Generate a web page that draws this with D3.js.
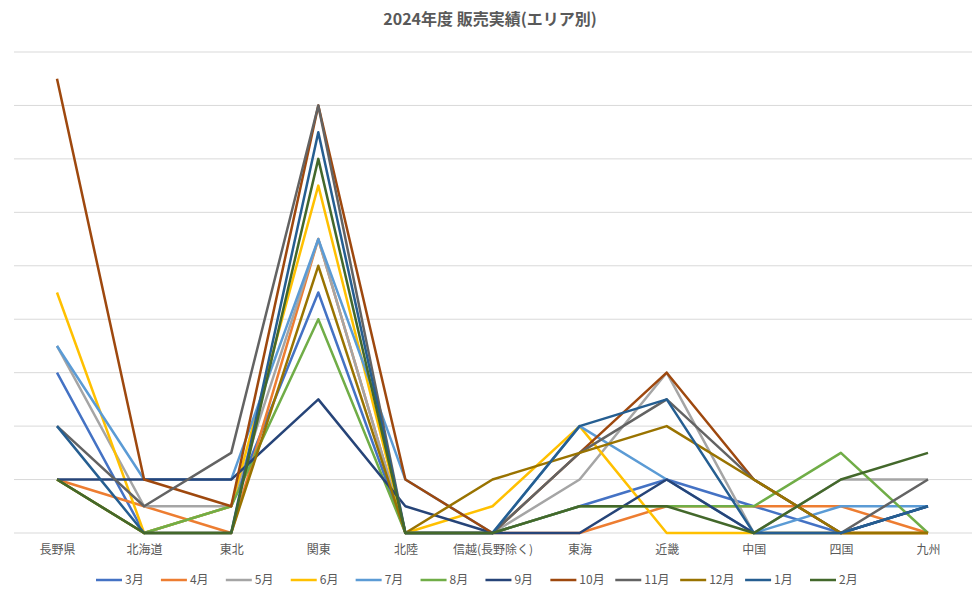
<!DOCTYPE html><html><head><meta charset="utf-8"><script src="https://cdn.jsdelivr.net/npm/d3@7"></script>
<style>body{margin:0;background:#fff;font-family:"Noto Sans CJK JP",sans-serif}</style></head><body><svg id="c" width="980" height="610"></svg><script>
const categories=["長野県","北海道","東北","関東","北陸","信越(長野除く)","東海","近畿","中国","四国","九州"];
const seriesNames=["3月","4月","5月","6月","7月","8月","9月","10月","11月","12月","1月","2月"];
const colors=["#4472C4","#ED7D31","#A5A5A5","#FFC000","#5B9BD5","#70AD47","#264478","#9E480E","#636363","#997300","#255E91","#43682B"];
const s3=[6,0,1,9,0,0,1,2,1,0,1];
const s4=[2,1,0,11,0,0,0,1,1,1,0];
const s5=[7,1,1,11,0,0,2,6,0,2,2];
const s6=[9,0,1,13,0,1,4,0,0,0,0];
const s7=[7,2,2,11,2,0,4,2,0,1,1];
const s8=[2,0,1,8,0,0,1,1,1,3,0];
const s9=[2,2,2,5,1,0,0,2,0,0,1];
const s10=[17,2,1,16,2,0,3,6,2,0,0];
const s11=[4,1,3,16,0,0,3,5,2,0,2];
const s12=[2,0,0,10,0,2,3,4,2,0,0];
const s1=[4,0,0,15,0,0,4,5,0,0,1];
const s2=[2,0,0,14,0,0,1,1,0,2,3];
const yTicks=[0,2,4,6,8,10,12,14,16,18];
const data=[s3,s4,s5,s6,s7,s8,s9,s10,s11,s12,s1,s2];
const svg=d3.select("#c");
const x=d3.scalePoint().domain(categories).range([57,928]);
const y=d3.scaleLinear().domain([0,18]).range([533,52]);
svg.append("text").attr("x",490).attr("y",25).attr("text-anchor","middle").attr("font-size",16).attr("font-weight","bold").attr("fill","#595959").text("2024年度 販売実績(エリア別)");
svg.append("g").selectAll("line").data(yTicks).join("line").attr("x1",14).attr("x2",972).attr("y1",d=>y(d)).attr("y2",d=>y(d)).attr("stroke","#d9d9d9");
svg.append("g").attr("transform","translate(0,533)").call(d3.axisBottom(x).tickSize(0).tickPadding(12)).call(g=>g.select(".domain").remove()).selectAll("text").attr("font-size",12).attr("fill","#595959").attr("font-family","Noto Sans CJK JP");
const line=d3.line().x((d,i)=>x(categories[i])).y(d=>y(d));
svg.append("g").selectAll("path").data(data).join("path").attr("d",line).attr("fill","none").attr("stroke",(d,i)=>colors[i]).attr("stroke-width",2.5).attr("stroke-linejoin","round");
const lg=svg.append("g");
const lx=d3.scalePoint().domain(seriesNames).range([96,810]);
seriesNames.forEach((n,i)=>{const g=lg.append("g").attr("transform",`translate(${lx(n)},580)`);
g.append("line").attr("x1",0).attr("x2",26).attr("stroke",colors[i]).attr("stroke-width",2.5);
g.append("text").attr("x",29).attr("y",4).attr("font-size",12).attr("fill","#595959").text(n);});
</script></body></html>
